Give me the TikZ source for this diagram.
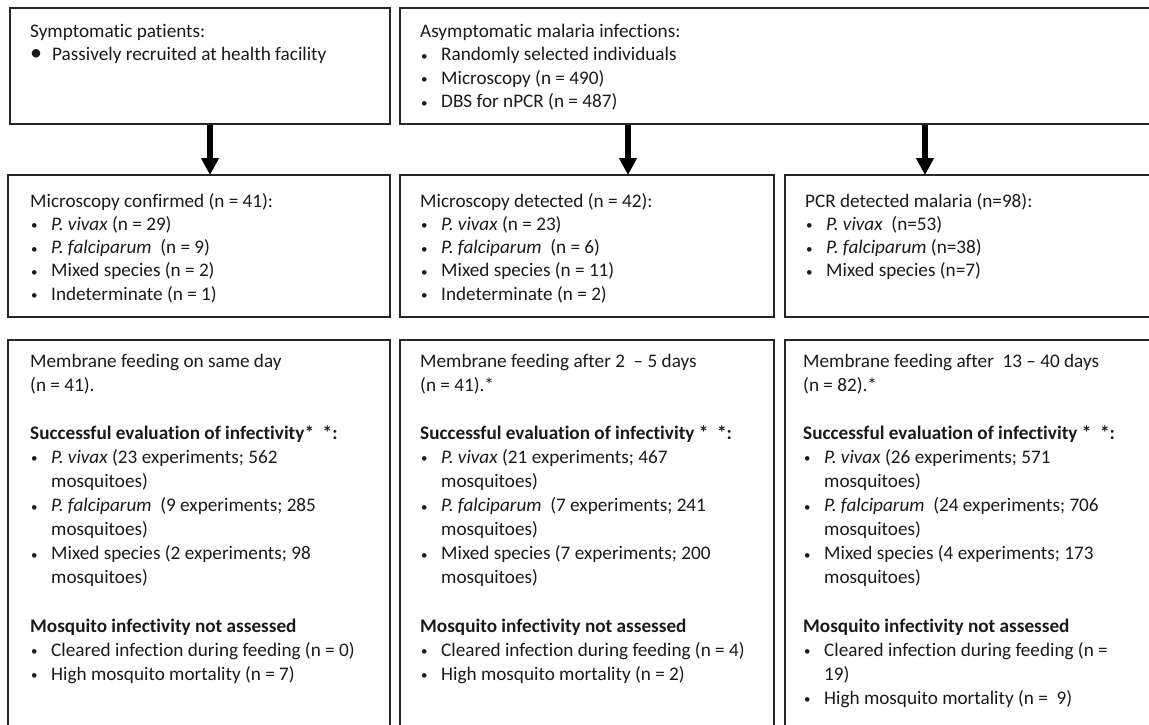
\documentclass[tikz,border=0pt]{standalone}
\usepackage{fontspec}
\setmainfont{Carlito}[RawFeature={-liga,-clig,-dlig,-calt}]
\usetikzlibrary{arrows.meta}
\definecolor{boxc}{HTML}{262626}
\definecolor{txtc}{HTML}{1A1A1A}
\newcommand{\smb}{\raisebox{0.5pt}{\fontsize{13}{13}\selectfont\textbullet}}
\newcommand{\bgb}{\raisebox{-0.5pt}{\fontsize{24}{24}\selectfont\textbullet}}
\newcommand{\bl}[1]{\makebox[21pt][l]{\hspace{1pt}\smb}#1\par}
\newcommand{\bigbl}[1]{\makebox[22pt][l]{\hspace{0pt}\bgb}#1\par}
\newcommand{\cl}[1]{\hspace*{21pt}#1\par}
\newcommand{\gap}{\mbox{}\par}
\newcommand{\pv}{\textit{P. vivax}}
\newcommand{\pf}{\textit{P. falciparum}}
\tikzset{
  box/.style={draw=boxc, line width=2pt, inner sep=0pt, rectangle},
  txt/.style={anchor=base west, inner sep=0pt, text=txtc},
  arr/.style={line width=6pt, draw=black, -{Triangle[width=17pt,length=17pt]}, shorten >=-1pt},
}
\newenvironment{toptext}{\begin{minipage}[t]{360pt}\fontsize{19.2}{23.3}\selectfont\parindent=0pt\raggedright}{\end{minipage}}
\newenvironment{bottext}{\begin{minipage}[t]{360pt}\fontsize{19.2}{24.1}\selectfont\parindent=0pt\raggedright}{\end{minipage}}
\begin{document}
\begin{tikzpicture}[x=1pt,y=-1pt]
\useasboundingbox (0,0) rectangle (1149,724);
\clip (0,0) rectangle (1149,724);
% boxes
\node[box, minimum width=380pt, minimum height=116pt] (A) at (200,66) {};
\node[box, minimum width=760pt, minimum height=116pt] (B) at (780,66) {};
\node[box, minimum width=382pt, minimum height=142pt] (C) at (199,246) {};
\node[box, minimum width=374pt, minimum height=142pt] (D) at (587,246) {};
\node[box, minimum width=375pt, minimum height=142pt] (E) at (972.5,246) {};
\node[box, minimum width=382pt, minimum height=400pt] (F) at (199,540) {};
\node[box, minimum width=374pt, minimum height=400pt] (G) at (587,540) {};
\node[box, minimum width=375pt, minimum height=400pt] (H) at (972.5,540) {};
% texts
\node[txt] (tA) at (30,37) {\begin{toptext}
Symptomatic patients:\par
\bigbl{Passively recruited at health facility}
\end{toptext}};
\node[txt] (tB) at (420,37) {\begin{minipage}[t]{360pt}\fontsize{19.2}{23.6}\selectfont\parindent=0pt\raggedright
Asymptomatic malaria infections:\par
\bl{Randomly selected individuals}
\bl{Microscopy (n = 490)}
\bl{DBS for nPCR (n = 487)}
\end{minipage}};
\node[txt] (tC) at (30,207) {\begin{toptext}
Microscopy confirmed (n = 41):\par
\bl{\pv\ (n = 29)}
\bl{\pf\ \ (n = 9)}
\bl{Mixed species (n = 2)}
\bl{Indeterminate (n = 1)}
\end{toptext}};
\node[txt] (tD) at (420,207) {\begin{toptext}
Microscopy detected (n = 42):\par
\bl{\pv\ (n = 23)}
\bl{\pf\ \ (n = 6)}
\bl{Mixed species (n = 11)}
\bl{Indeterminate (n = 2)}
\end{toptext}};
\node[txt] (tE) at (805,207) {\begin{toptext}
PCR detected malaria (n=98):\par
\bl{\pv\ \ (n=53)}
\bl{\pf\ (n=38)}
\bl{Mixed species (n=7)}
\end{toptext}};
\node[txt] (tF) at (30,367) {\begin{bottext}
Membrane feeding on same day\par
(n = 41).\par
\gap
\textbf{Successful evaluation of infectivity*\ \ *:}\par
\bl{\pv\ (23 experiments; 562}
\cl{mosquitoes)}
\bl{\pf\ \ (9 experiments; 285}
\cl{mosquitoes)}
\bl{Mixed species (2 experiments; 98}
\cl{mosquitoes)}
\gap
\textbf{Mosquito infectivity not assessed}\par
\bl{Cleared infection during feeding (n = 0)}
\bl{High mosquito mortality (n = 7)}
\end{bottext}};
\node[txt] (tG) at (420,367) {\begin{bottext}
Membrane feeding after 2 \ -- 5 days\par
(n = 41).*\par
\gap
\textbf{Successful evaluation of infectivity * \ *:}\par
\bl{\pv\ (21 experiments; 467}
\cl{mosquitoes)}
\bl{\pf\ \ (7 experiments; 241}
\cl{mosquitoes)}
\bl{Mixed species (7 experiments; 200}
\cl{mosquitoes)}
\gap
\textbf{Mosquito infectivity not assessed}\par
\bl{Cleared infection during feeding (n = 4)}
\bl{High mosquito mortality (n = 2)}
\end{bottext}};
\node[txt] (tH) at (803,367) {\begin{bottext}
Membrane feeding after \ 13 -- 40 days\par
(n = 82).*\par
\gap
\textbf{Successful evaluation of infectivity * \ *:}\par
\bl{\pv\ (26 experiments; 571}
\cl{mosquitoes)}
\bl{\pf\ \ (24 experiments; 706}
\cl{mosquitoes)}
\bl{Mixed species (4 experiments; 173}
\cl{mosquitoes)}
\gap
\textbf{Mosquito infectivity not assessed}\par
\bl{Cleared infection during feeding (n =}
\cl{19)}
\bl{High mosquito mortality (n = \ 9)}
\end{bottext}};
% arrows
\coordinate (x1) at (210,0);
\coordinate (x2) at (628,0);
\coordinate (x3) at (925,0);
\draw[arr] (A.south -| x1) -- (C.north -| x1);
\draw[arr] (B.south -| x2) -- (D.north -| x2);
\draw[arr] (B.south -| x3) -- (E.north -| x3);
\end{tikzpicture}
\end{document}
